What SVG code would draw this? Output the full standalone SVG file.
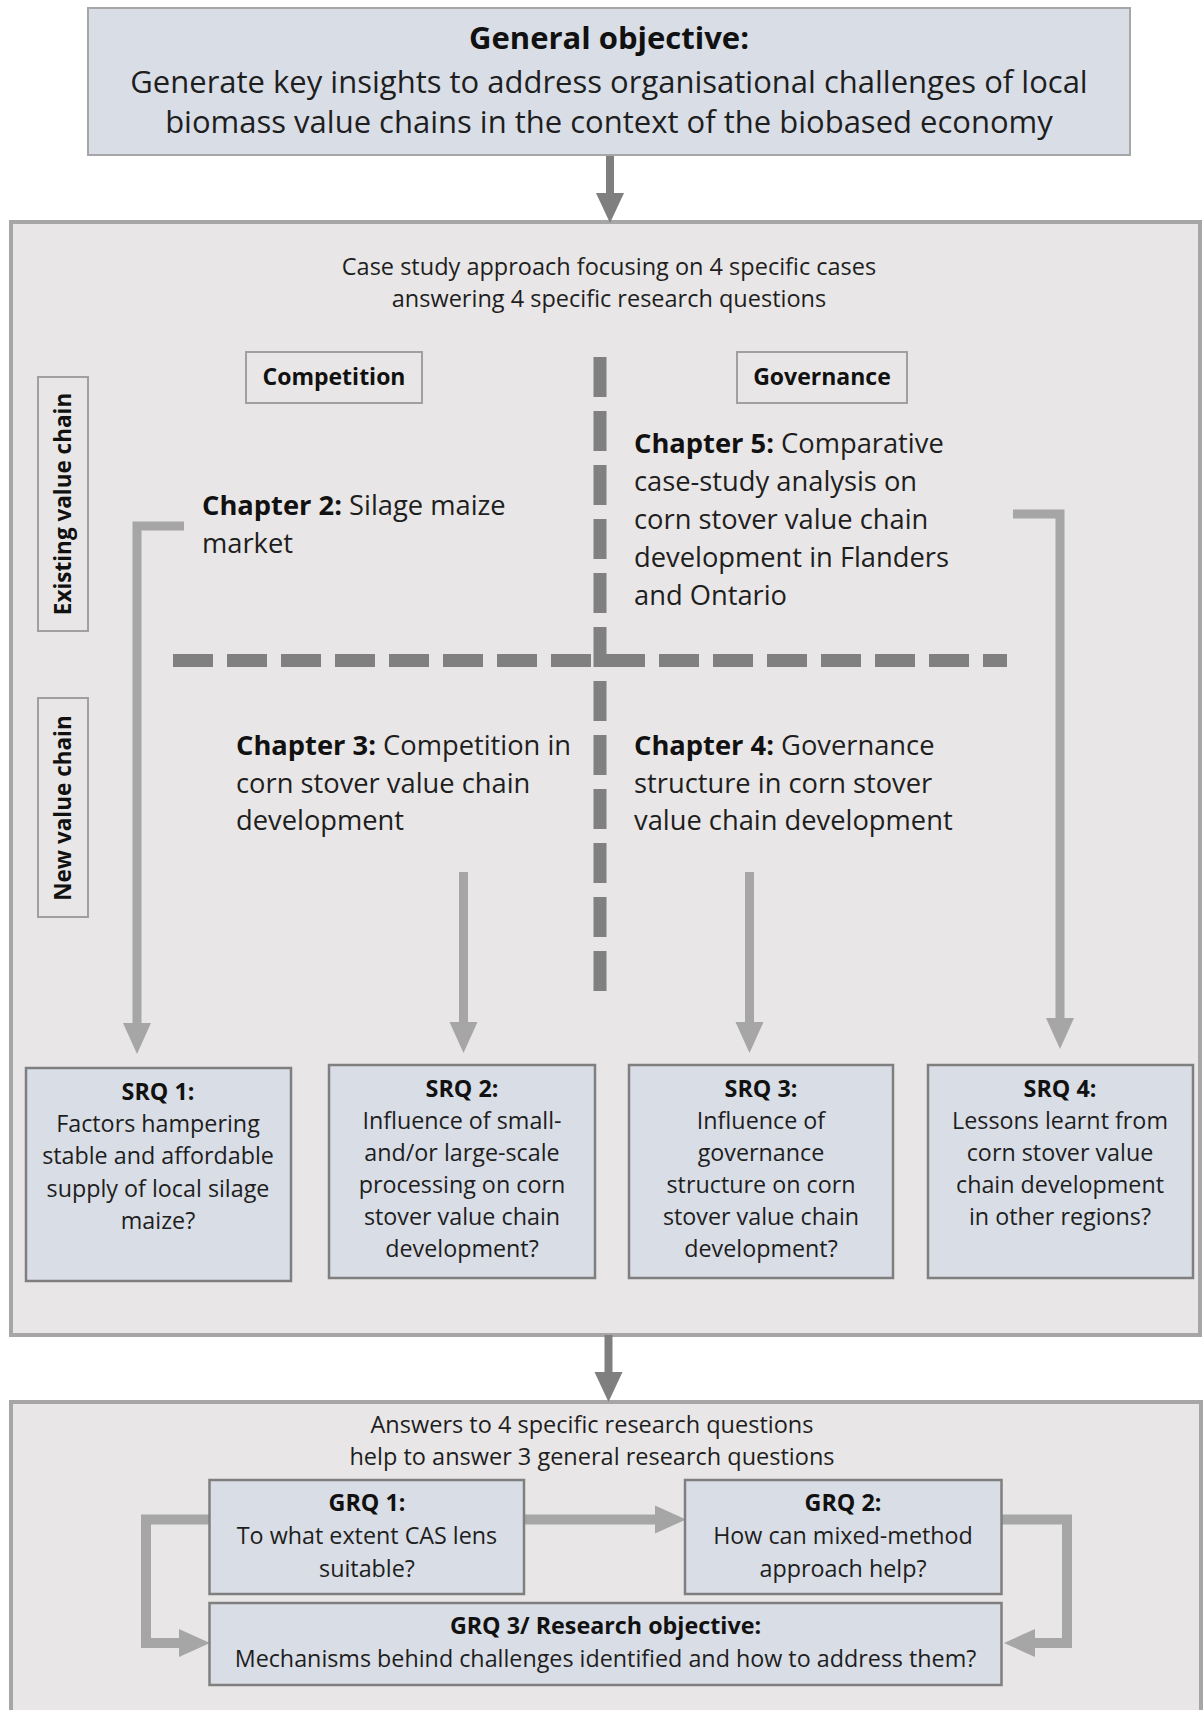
<svg xmlns="http://www.w3.org/2000/svg" width="1203" height="1710" viewBox="0 0 1203 1710">
  <style>
    text { font-family: "Open Sans", Lato, "Liberation Sans", sans-serif; fill: #1e1e1e; }
    .b { font-weight: bold; fill: #111; }
    .title { font-size: 31px; text-anchor: middle; }
    .hdr { font-size: 23.5px; text-anchor: middle; }
    .lab { font-size: 23px; font-weight: bold; text-anchor: middle; fill: #111; }
    .vlab { font-size: 22.5px; }
    .chap { font-size: 27.3px; }
    .q { font-size: 23.3px; text-anchor: middle; }
    .panel { fill: #e8e6e6; stroke: #a6a6a6; stroke-width: 4; }
    .goal { fill: #d9dde6; stroke: #a6a6a6; stroke-width: 2; }
    .qbox { fill: #d9dde5; stroke: #7f7f7f; stroke-width: 2.5; }
    .tag { fill: none; stroke: #a0a0a0; stroke-width: 2; }
    .divider { fill: none; stroke: #808080; stroke-width: 13; stroke-dasharray: 40 14; }
    .flow { fill: none; stroke: #a6a6a6; stroke-width: 9; }
    .loop { fill: none; stroke: #a6a6a6; stroke-width: 10; }
    .main { fill: none; stroke: #7f7f7f; stroke-width: 8; }
  </style>
  <defs>
    <marker id="headLight" markerUnits="userSpaceOnUse" markerWidth="31" markerHeight="30" refX="0" refY="15" orient="auto">
      <path d="M0,1 L31,15 L0,29 z" fill="#a6a6a6"/>
    </marker>
    <marker id="headDark" markerUnits="userSpaceOnUse" markerWidth="30" markerHeight="30" refX="0" refY="15" orient="auto">
      <path d="M0,1 L30,15 L0,29 z" fill="#7f7f7f"/>
    </marker>
  </defs>

  <rect width="1203" height="1710" fill="#ffffff"/>

  <!-- Panels -->
  <rect id="panel-cases" class="panel" x="11" y="222" width="1189" height="1113"/>
  <rect id="panel-general" class="panel" x="11" y="1402" width="1190" height="320"/>

  <!-- Quadrant dividers -->
  <g id="dividers">
    <line class="divider" x1="600" y1="357" x2="600" y2="991"/>
    <line class="divider" x1="173" y1="660.5" x2="1007" y2="660.5"/>
  </g>

  <!-- Connectors -->
  <g id="connectors">
    <path class="main" d="M610,155 V193" marker-end="url(#headDark)"/>
    <path class="main" d="M608.5,1335 V1372" marker-end="url(#headDark)"/>
    <path class="flow" d="M184,526 H137 V1023" marker-end="url(#headLight)"/>
    <path class="flow" d="M463.5,872 V1022" marker-end="url(#headLight)"/>
    <path class="flow" d="M749.5,872 V1022" marker-end="url(#headLight)"/>
    <path class="flow" d="M1013,514 H1060 V1018" marker-end="url(#headLight)"/>
    <path class="loop" d="M524,1519.5 H655" marker-end="url(#headLight)"/>
    <path class="loop" d="M209.5,1519.5 H146 V1643 H179" marker-end="url(#headLight)"/>
    <path class="loop" d="M1002,1519.5 H1067 V1643 H1035" marker-end="url(#headLight)"/>
  </g>

  <!-- General objective -->
  <g id="general-objective">
    <rect class="goal" x="88" y="8" width="1042" height="147"/>
    <text class="title b" x="609" y="49">General objective:</text>
    <text class="title" x="609" y="93">Generate key insights to address organisational challenges of local</text>
    <text class="title" x="609" y="133">biomass value chains in the context of the biobased economy</text>
  </g>

  <g id="case-intro">
    <text class="hdr" x="609" y="275">Case study approach focusing on 4 specific cases</text>
    <text class="hdr" x="609" y="307">answering 4 specific research questions</text>
  </g>

  <!-- Column and row tags -->
  <g id="tag-competition">
    <rect class="tag" x="246" y="352" width="176" height="51"/>
    <text class="lab" x="334" y="385">Competition</text>
  </g>
  <g id="tag-governance">
    <rect class="tag" x="737" y="352" width="170" height="51"/>
    <text class="lab" x="822" y="385">Governance</text>
  </g>
  <g id="tag-existing">
    <rect class="tag" x="38" y="377" width="50" height="254"/>
    <text class="lab vlab" transform="translate(71,504) rotate(-90)">Existing value chain</text>
  </g>
  <g id="tag-new">
    <rect class="tag" x="38" y="698" width="50" height="219"/>
    <text class="lab vlab" transform="translate(71,808) rotate(-90)">New value chain</text>
  </g>

  <!-- Chapters -->
  <g id="chapter-2">
    <text class="chap" x="202" y="515"><tspan class="b">Chapter 2:</tspan> Silage maize</text>
    <text class="chap" x="202" y="553">market</text>
  </g>
  <g id="chapter-5">
    <text class="chap" x="634" y="453"><tspan class="b">Chapter 5:</tspan> Comparative</text>
    <text class="chap" x="634" y="491">case-study analysis on</text>
    <text class="chap" x="634" y="529">corn stover value chain</text>
    <text class="chap" x="634" y="567">development in Flanders</text>
    <text class="chap" x="634" y="605">and Ontario</text>
  </g>
  <g id="chapter-3">
    <text class="chap" x="236" y="755"><tspan class="b">Chapter 3:</tspan> Competition in</text>
    <text class="chap" x="236" y="793">corn stover value chain</text>
    <text class="chap" x="236" y="830">development</text>
  </g>
  <g id="chapter-4">
    <text class="chap" x="634" y="755"><tspan class="b">Chapter 4:</tspan> Governance</text>
    <text class="chap" x="634" y="793">structure in corn stover</text>
    <text class="chap" x="634" y="830">value chain development</text>
  </g>

  <!-- Specific research questions -->
  <g id="srq-1">
    <rect class="qbox" x="26" y="1068" width="265" height="213"/>
    <text class="q b" x="158" y="1100">SRQ 1:</text>
    <text class="q" x="158" y="1132">Factors hampering</text>
    <text class="q" x="158" y="1164">stable and affordable</text>
    <text class="q" x="158" y="1197">supply of local silage</text>
    <text class="q" x="158" y="1229">maize?</text>
  </g>
  <g id="srq-2">
    <rect class="qbox" x="329" y="1065" width="266" height="213"/>
    <text class="q b" x="462" y="1097">SRQ 2:</text>
    <text class="q" x="462" y="1129">Influence of small-</text>
    <text class="q" x="462" y="1161">and/or large-scale</text>
    <text class="q" x="462" y="1193">processing on corn</text>
    <text class="q" x="462" y="1225">stover value chain</text>
    <text class="q" x="462" y="1257">development?</text>
  </g>
  <g id="srq-3">
    <rect class="qbox" x="629" y="1065" width="264" height="213"/>
    <text class="q b" x="761" y="1097">SRQ 3:</text>
    <text class="q" x="761" y="1129">Influence of</text>
    <text class="q" x="761" y="1161">governance</text>
    <text class="q" x="761" y="1193">structure on corn</text>
    <text class="q" x="761" y="1225">stover value chain</text>
    <text class="q" x="761" y="1257">development?</text>
  </g>
  <g id="srq-4">
    <rect class="qbox" x="928" y="1065" width="265" height="213"/>
    <text class="q b" x="1060" y="1097">SRQ 4:</text>
    <text class="q" x="1060" y="1129">Lessons learnt from</text>
    <text class="q" x="1060" y="1161">corn stover value</text>
    <text class="q" x="1060" y="1193">chain development</text>
    <text class="q" x="1060" y="1225">in other regions?</text>
  </g>

  <!-- General research questions -->
  <g id="general-intro">
    <text class="hdr" x="592" y="1433">Answers to 4 specific research questions</text>
    <text class="hdr" x="592" y="1465">help to answer 3 general research questions</text>
  </g>
  <g id="grq-1">
    <rect class="qbox" x="209.5" y="1480" width="314.5" height="114"/>
    <text class="q b" x="367" y="1511">GRQ 1:</text>
    <text class="q" x="367" y="1544">To what extent CAS lens</text>
    <text class="q" x="367" y="1577">suitable?</text>
  </g>
  <g id="grq-2">
    <rect class="qbox" x="685" y="1480" width="316.5" height="114"/>
    <text class="q b" x="843" y="1511">GRQ 2:</text>
    <text class="q" x="843" y="1544">How can mixed-method</text>
    <text class="q" x="843" y="1577">approach help?</text>
  </g>
  <g id="grq-3">
    <rect class="qbox" x="209.5" y="1603" width="792" height="82"/>
    <text class="q b" x="605.5" y="1634">GRQ 3/ Research objective:</text>
    <text class="q" x="605.5" y="1667">Mechanisms behind challenges identified and how to address them?</text>
  </g>
</svg>
